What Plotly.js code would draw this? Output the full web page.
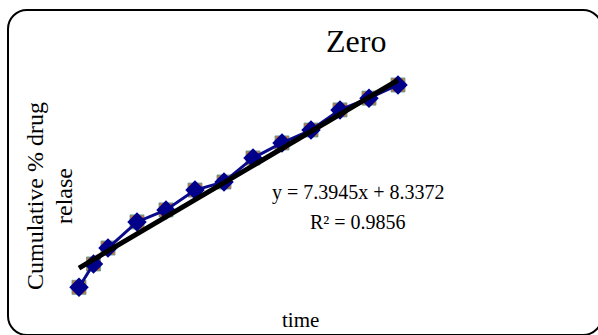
<!DOCTYPE html>
<html>
<head>
<meta charset="utf-8">
<script src="https://cdn.plot.ly/plotly-3.0.1.min.js"></script>
<style>
  html, body { margin: 0; padding: 0; background: #fff; }
  #wrap { position: relative; width: 598px; height: 335px; overflow: hidden; }
  #chart { position: absolute; left: 0; top: 0; width: 598px; height: 335px; }
  #frame { position: absolute; left: 7px; top: 9px; width: 592px; height: 323px;
           border: 2px solid #000; border-radius: 20px; pointer-events: none; }
</style>
</head>
<body>
<div id="wrap">
  <div id="chart"></div>
  <div id="frame"></div>
</div>
<script>
// Data
const time = [0, 0.5, 1, 2, 3, 4, 5, 6, 7, 8, 9, 10, 11];
const release = [0, 10.1, 17.0, 28.3, 33.5, 42.1, 45.6, 56.0, 62.5, 68.1, 76.8, 81.9, 87.6];
const slope = 7.3945;
const intercept = 8.3372;
const r2 = 0.9856;
const trendX = [0, 11];
const trendY = trendX.map(x => slope * x + intercept);

const titleText = 'Zero';
const xTitle = 'time';
const yTitleLines = ['Cumulative % drug', 'relase'];

const L = 62, T = 30, W = 498, H = 270;
const px = x => (x - L) / W;
const py = y => (T + H - y) / H;
const serif = 'Liberation Serif, Times New Roman, serif';

function label(text, x, y, size, angle) {
  return { text: text, xref: 'paper', yref: 'paper', x: px(x), y: py(y),
           xanchor: 'center', yanchor: 'middle', showarrow: false, textangle: angle || 0,
           font: { family: serif, size: size, color: '#000' } };
}

const traces = [
  { x: time, y: release, type: 'scatter', mode: 'markers', hoverinfo: 'skip',
    marker: { symbol: 'square', size: 14, color: '#d2783a', line: { color: '#4f9c9c', width: 0.8 } } },
  { x: time, y: release, type: 'scatter', mode: 'lines+markers',
    line: { color: '#0a0a8c', width: 3 },
    marker: { symbol: 'diamond', size: 15, color: '#00008b' } },
  { x: trendX, y: trendY, type: 'scatter', mode: 'lines',
    line: { color: '#000', width: 5 } }
];

const layout = {
  width: 598, height: 335,
  margin: { l: L, r: 598 - L - W, t: T, b: 335 - T - H },
  paper_bgcolor: '#fff', plot_bgcolor: '#fff',
  showlegend: false,
  xaxis: { range: [-0.586, 16.586], showgrid: false, zeroline: false, showticklabels: false, showline: false, ticks: '' },
  yaxis: { range: [-5.5, 111.4], showgrid: false, zeroline: false, showticklabels: false, showline: false, ticks: '' },
  annotations: [
    label(titleText, 356, 41, 32),
    label(xTitle, 300, 320, 21),
    label(yTitleLines[0], 35, 196, 24, -90),
    label(yTitleLines[1], 64, 196, 24, -90),
    label('y = ' + slope.toFixed(4) + 'x + ' + intercept.toFixed(4), 358, 193, 20),
    label('R² = ' + r2.toFixed(4), 358, 222, 20)
  ]
};

Plotly.newPlot('chart', traces, layout, { staticPlot: true, displayModeBar: false });
</script>
</body>
</html>
